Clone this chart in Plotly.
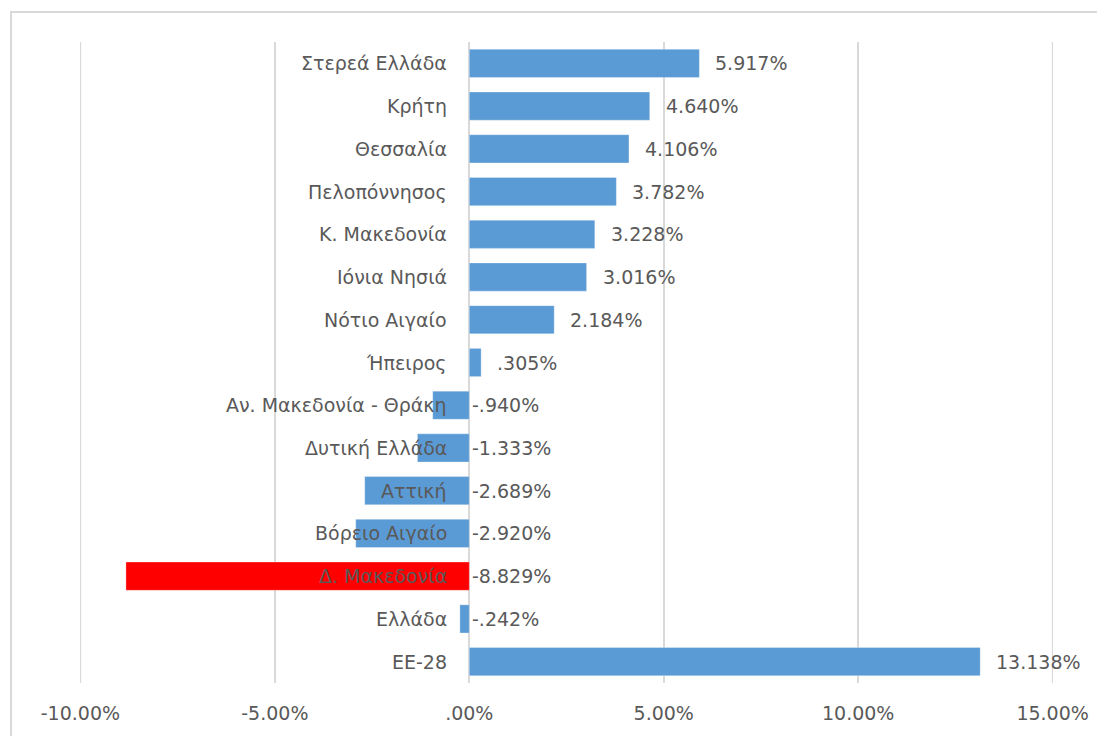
import plotly.graph_objects as go

categories = ["Στερεά Ελλάδα", "Κρήτη", "Θεσσαλία", "Πελοπόννησος", "Κ. Μακεδονία",
              "Ιόνια Νησιά", "Νότιο Αιγαίο", "Ήπειρος", "Αν. Μακεδονία - Θράκη",
              "Δυτική Ελλάδα", "Αττική", "Βόρειο Αιγαίο", "Δ. Μακεδονία", "Ελλάδα", "ΕΕ-28"]
values = [5.917, 4.640, 4.106, 3.782, 3.228, 3.016, 2.184, 0.305, -0.940,
          -1.333, -2.689, -2.920, -8.829, -0.242, 13.138]
value_labels = ["5.917%", "4.640%", "4.106%", "3.782%", "3.228%", "3.016%", "2.184%", ".305%",
                "-.940%", "-1.333%", "-2.689%", "-2.920%", "-8.829%", "-.242%", "13.138%"]
highlight = "Δ. Μακεδονία"
tick_vals = [-10, -5, 0, 5, 10, 15]
tick_text = ["-10.00%", "-5.00%", ".00%", "5.00%", "10.00%", "15.00%"]

BLUE = "#5b9bd5"
RED = "#ff0000"
TXT = "#595959"
GRID = "#d9d9d9"
FONT = "DejaVu Sans"
FS = 19

colors = [RED if c == highlight else BLUE for c in categories]

fig = go.Figure()
fig.add_trace(go.Bar(
    y=categories, x=values, orientation="h",
    marker=dict(color=colors, line=dict(color="rgba(255,255,255,0.6)", width=0.5)),
    width=0.66, hoverinfo="skip",
))

annotations = []
for c, v, lab in zip(categories, values, value_labels):
    annotations.append(dict(x=0, y=c, xref="x", yref="y", text=c, showarrow=False,
                            xanchor="right", xshift=-20,
                            font=dict(family=FONT, size=FS, color=TXT)))
    annotations.append(dict(x=max(v, 0), y=c, xref="x", yref="y", text=lab, showarrow=False,
                            xanchor="left", xshift=14 if v > 0 else 1,
                            font=dict(family=FONT, size=FS, color=TXT)))

shapes = [dict(type="rect", xref="paper", yref="paper",
               x0=(11 - 80) / 973, x1=(1110 - 80) / 973,
               y0=(683 - 745) / 641, y1=(683 - 12) / 641,
               line=dict(color=GRID, width=2), fillcolor="rgba(0,0,0,0)", layer="below")]
# edge gridlines (plotly drops gridlines lying on the plot edges)
for tv in (tick_vals[0], tick_vals[-1]):
    shapes.append(dict(type="line", xref="x", yref="paper", x0=tv, x1=tv, y0=0, y1=1,
                       line=dict(color=GRID, width=1.5), layer="below"))

# page has an 8px body margin, so the figure starts at (8, 8)
fig.update_layout(
    width=1097, height=728,
    margin=dict(l=72, r=52, t=34, b=53),
    paper_bgcolor="white", plot_bgcolor="white",
    showlegend=False,
    annotations=annotations,
    shapes=shapes,
    xaxis=dict(range=[-10.01, 15.01], tickvals=tick_vals, ticktext=tick_text,
               showgrid=True, gridcolor=GRID, gridwidth=1.5,
               zeroline=True, zerolinecolor=GRID, zerolinewidth=1.5,
               showline=False, ticks="", ticklabelstandoff=17,
               tickfont=dict(family=FONT, size=FS, color=TXT), fixedrange=True),
    yaxis=dict(autorange="reversed", showticklabels=False, showgrid=False,
               zeroline=False, showline=False, ticks="", fixedrange=True),
    bargap=0.34,
)

fig.write_html("out.html")
